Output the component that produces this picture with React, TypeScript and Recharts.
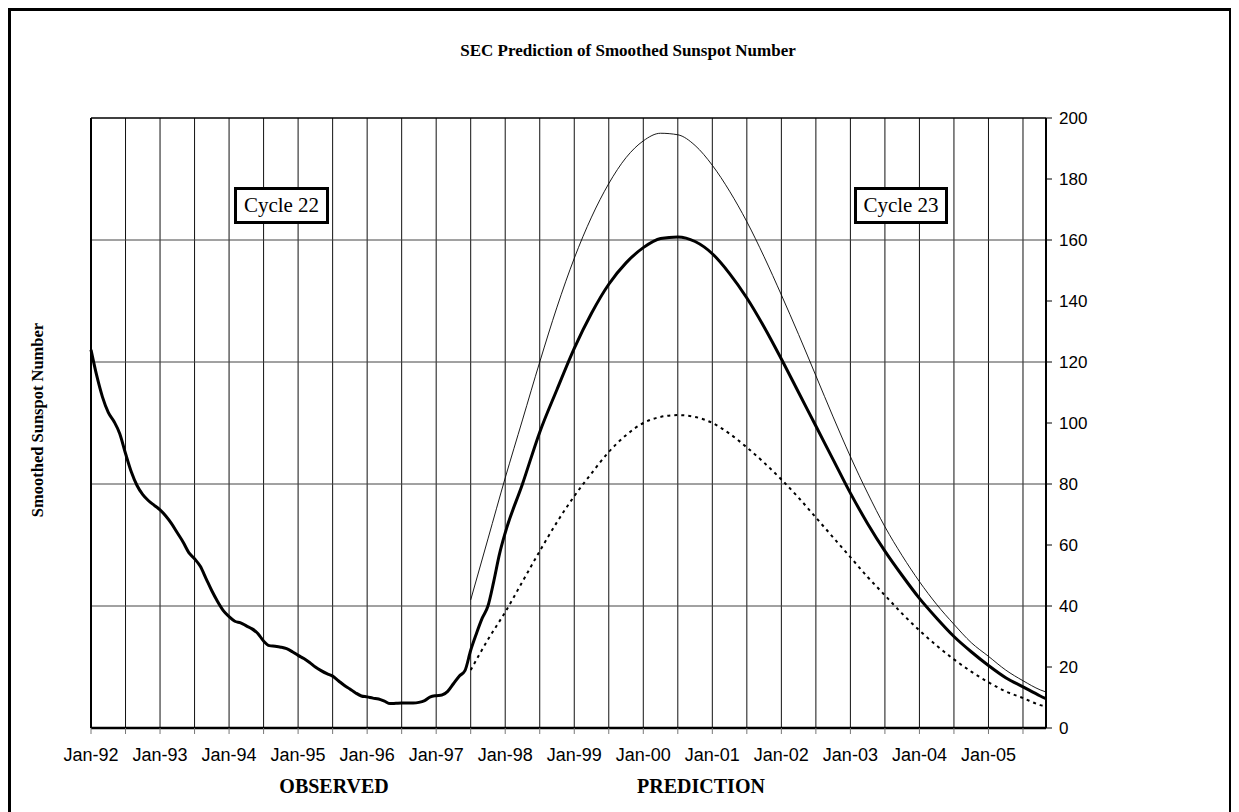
import React from "react";
import { LineChart, Line, XAxis, YAxis, ReferenceLine } from "recharts";

// x positions are months counted from Jan-92 (= 0)
const yearLabels = [
  "Jan-92", "Jan-93", "Jan-94", "Jan-95", "Jan-96", "Jan-97", "Jan-98",
  "Jan-99", "Jan-00", "Jan-01", "Jan-02", "Jan-03", "Jan-04", "Jan-05",
];
const halfYearTicks = [
  0, 6, 12, 18, 24, 30, 36, 42, 48, 54, 60, 66, 72, 78, 84, 90, 96, 102,
  108, 114, 120, 126, 132, 138, 144, 150, 156, 162,
];
const sunspotTicks = [0, 20, 40, 60, 80, 100, 120, 140, 160, 180, 200];
const gridLevels = [40, 80, 120, 160];

// observed smoothed sunspot number, monthly Jan-92 .. Dec-97
const observed = [
  124, 115.5, 108.5, 103.5, 100.5, 96.5, 90, 84, 79.5, 76.5, 74.5, 73,
  71.5, 69.5, 67, 64, 61, 57.5, 55.5, 53, 49, 45, 41.5, 38.5,
  36.5, 35, 34.5, 33.5, 32.5, 31, 28.5, 27, 26.8, 26.5, 26, 25,
  23.8, 22.8, 21.5, 20, 18.8, 17.8, 17, 15.5, 14, 12.8, 11.5, 10.5,
  10.2, 9.8, 9.5, 8.8, 8, 8.1, 8.2, 8.2, 8.2, 8.4, 9, 10.2,
  10.6, 10.8, 12, 14.5, 17, 18.8, 25.5, 31, 36, 40, 48, 57,
];

// prediction months (Jul-97 .. Nov-05)
const predMonths = [
  66, 69, 72, 75, 78, 81, 84, 87, 90, 93, 96, 99, 102, 105, 108, 111, 114,
  117, 120, 123, 126, 129, 132, 135, 138, 141, 144, 147, 150, 153, 156, 159,
  162, 165, 166,
];
// predicted smoothed value, starting at month 72
const predSmoothed = [
  64, 80, 97, 111, 124.5, 136, 145.5, 152.5, 157.5, 160.5, 161, 159.5,
  155.5, 149, 141, 131.5, 121, 110, 99, 88, 77, 67, 58, 50, 42.5, 36, 30,
  25, 20.5, 16.5, 13.5, 10.5, 9.6,
];
const predUpper = [
  42, 62, 82, 101, 120, 138, 154, 167.5, 178.5, 187, 192.5, 195, 194.5, 191,
  184.5, 176, 166, 154.5, 142, 129, 115.5, 102, 89, 77, 66, 56.5, 48, 40.5,
  34, 28, 23.5, 19, 15.5, 12.5, 11.8,
];
const predLower = [
  19, 29, 38, 48, 58, 67.5, 76, 83.5, 90.5, 96, 100, 102, 102.6, 102, 100,
  96.5, 92, 87, 81.5, 75.5, 69, 62.5, 56, 49.5, 43.5, 37.5, 32, 27, 22.5,
  18.5, 15, 12, 9.8, 7.5, 7,
];

const smoothedData = [
  ...observed.map((v, i) => ({ m: i, v })),
  ...predSmoothed.map((v, i) => ({ m: predMonths[i + 2], v })),
];
const upperData = predMonths.map((m, i) => ({ m, v: predUpper[i] }));
const lowerData = predMonths.map((m, i) => ({ m, v: predLower[i] }));

const sans = "'Liberation Sans', Arial, sans-serif";
const serif = "'Liberation Serif', 'Times New Roman', serif";

const boxStyle: React.CSSProperties = {
  position: "absolute",
  top: 179,
  height: 37,
  boxSizing: "border-box",
  border: "3px solid #000",
  background: "#fff",
  fontFamily: serif,
  fontSize: 21,
  lineHeight: "31px",
  textAlign: "center",
};

const boldLabel: React.CSSProperties = {
  position: "absolute",
  fontFamily: serif,
  fontWeight: "bold",
  color: "#000",
  whiteSpace: "nowrap",
  lineHeight: 1,
};

export default function App() {
  const xLabel = (m: number) => (m % 12 === 0 ? yearLabels[m / 12] : "");

  return (
    <div style={{ position: "relative", width: 1224, height: 804, overflow: "hidden", background: "#fff" }}>
      <div
        style={{
          position: "absolute", left: 0, top: 0, width: 1224, height: 830,
          boxSizing: "border-box", border: "3px solid #000",
        }}
      />
      <div style={{ ...boldLabel, left: 8, width: 1224, top: 34, textAlign: "center", fontSize: 17 }}>
        SEC Prediction of Smoothed Sunspot Number
      </div>

      <div style={{ position: "absolute", left: 0, top: 0 }}>
        <LineChart width={1224} height={804} margin={{ top: 110, left: 83, right: 126, bottom: 54 }}>
          <XAxis
            type="number"
            dataKey="m"
            domain={[0, 166]}
            ticks={halfYearTicks}
            tickFormatter={xLabel}
            interval={0}
            height={30}
            tickSize={6}
            tickMargin={14}
            tick={{ fill: "#000", fontSize: 18, fontFamily: sans }}
            tickLine={{ stroke: "#777" }}
            axisLine={{ stroke: "#000", strokeWidth: 2.5 }}
          />
          <YAxis
            orientation="right"
            type="number"
            domain={[0, 200]}
            ticks={sunspotTicks}
            interval={0}
            width={60}
            tickSize={6}
            tickMargin={7}
            tick={{ fill: "#000", fontSize: 17, fontFamily: sans }}
            tickLine={{ stroke: "#000" }}
            axisLine={{ stroke: "#000", strokeWidth: 2 }}
          />
          {halfYearTicks.slice(1).map((m) => (
            <ReferenceLine key={"v" + m} x={m} stroke="#111" strokeWidth={1} />
          ))}
          {gridLevels.map((y) => (
            <ReferenceLine key={"h" + y} y={y} stroke="#444" strokeWidth={1} />
          ))}
          <ReferenceLine y={200} stroke="#000" strokeWidth={1.5} />
          <ReferenceLine x={0} stroke="#000" strokeWidth={2} />

          <Line
            data={upperData}
            dataKey="v"
            type="monotone"
            stroke="#000"
            strokeWidth={0.9}
            dot={false}
            isAnimationActive={false}
          />
          <Line
            data={lowerData}
            dataKey="v"
            type="monotone"
            stroke="#000"
            strokeWidth={2}
            strokeDasharray="3 4"
            dot={false}
            isAnimationActive={false}
          />
          <Line
            data={smoothedData}
            dataKey="v"
            type="monotone"
            stroke="#000"
            strokeWidth={3}
            dot={false}
            isAnimationActive={false}
          />
        </LineChart>
      </div>

      <div style={{ ...boxStyle, left: 226, width: 95 }}>Cycle 22</div>
      <div style={{ ...boxStyle, left: 846, width: 94 }}>Cycle 23</div>

      <div
        style={{
          ...boldLabel, fontSize: 16.5, left: 30, top: 412,
          transform: "translate(-50%, -50%) rotate(-90deg)",
        }}
      >
        Smoothed Sunspot Number
      </div>
      <div style={{ ...boldLabel, fontSize: 20, left: 326, top: 768, transform: "translateX(-50%)" }}>
        OBSERVED
      </div>
      <div style={{ ...boldLabel, fontSize: 20, left: 693, top: 768, transform: "translateX(-50%)" }}>
        PREDICTION
      </div>
    </div>
  );
}
